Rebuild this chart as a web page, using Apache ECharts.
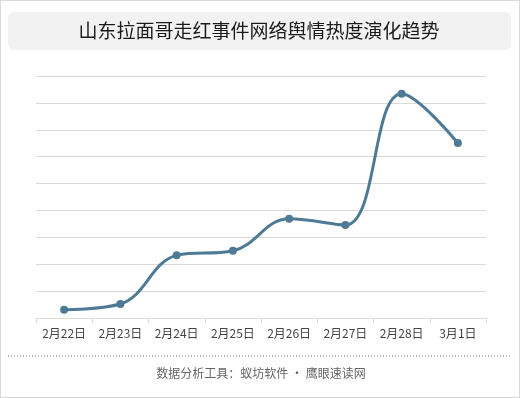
<!DOCTYPE html>
<html>
<head>
<meta charset="utf-8">
<script src="https://cdn.jsdelivr.net/npm/echarts@6/dist/echarts.min.js"></script>
<style>
  html, body { margin: 0; padding: 0; background: #fff; }
  #main { width: 518px; height: 396px; border: 1px solid #d9d9d9; }
</style>
</head>
<body>
<div id="main"></div>
<script>
const titleText = "山东拉面哥走红事件网络舆情热度演化趋势";
const footerText = "数据分析工具：蚁坊软件 · 鹰眼速读网";
const dates = ["2月22日", "2月23日", "2月24日", "2月25日", "2月26日", "2月27日", "2月28日", "3月1日"];
const heat = [0.31, 0.52, 2.33, 2.5, 3.69, 3.46, 8.34, 6.51];

const lineColor = "#4f7a96";
const font = "'Noto Sans CJK SC', 'Noto Sans', sans-serif";

const chart = echarts.init(document.getElementById("main"));
chart.setOption({
  animation: false,
  grid: { left: 35, right: 33, top: 75, bottom: 79 },
  xAxis: {
    type: "category",
    data: dates,
    axisLine: { lineStyle: { color: "#d9d9d9", width: 1 } },
    axisTick: { show: true, lineStyle: { color: "#d9d9d9" } },
    axisLabel: { interval: 0, color: "#444", fontSize: 12, fontFamily: font, margin: 9 },
  },
  yAxis: {
    type: "value",
    min: 0,
    max: 9,
    interval: 1,
    axisLabel: { show: false },
    axisLine: { show: false },
    axisTick: { show: false },
    splitLine: { lineStyle: { color: "#d9d9d9", width: 1 } },
  },
  series: [
    {
      type: "line",
      data: heat,
      smooth: 0.4,
      symbol: "circle",
      symbolSize: 8,
      lineStyle: { color: lineColor, width: 3 },
      itemStyle: { color: lineColor },
    },
  ],
  graphic: [
    {
      type: "rect",
      shape: { x: 7, y: 11, width: 503, height: 38, r: 6 },
      style: { fill: "#f2f2f2" },
    },
    {
      type: "text",
      x: 258,
      y: 30,
      style: {
        text: titleText,
        fill: "#1a1a1a",
        font: "19px " + font,
        align: "center",
        verticalAlign: "middle",
      },
    },
    {
      type: "line",
      shape: { x1: 7, y1: 355, x2: 510, y2: 355 },
      style: { stroke: "#777", lineWidth: 1, lineDash: [1, 2] },
    },
    {
      type: "text",
      x: 260,
      y: 372,
      style: {
        text: footerText,
        fill: "#666",
        font: "12px " + font,
        align: "center",
        verticalAlign: "middle",
      },
    },
  ],
});
</script>
</body>
</html>
